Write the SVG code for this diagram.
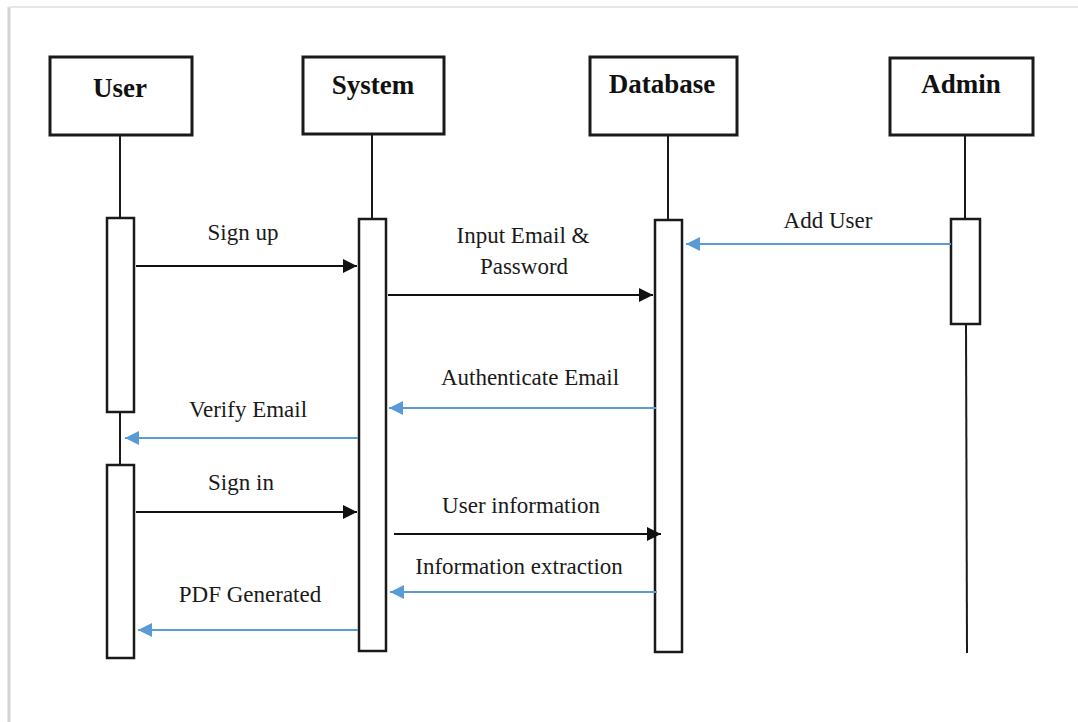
<svg xmlns="http://www.w3.org/2000/svg" width="1078" height="722" viewBox="0 0 1078 722">
  <style>
    .head { fill: #fff; stroke: #1a1a1a; stroke-width: 3; }
    .act { fill: #fff; stroke: #1a1a1a; stroke-width: 2.5; }
    .life { stroke: #1a1a1a; stroke-width: 2; fill: none; }
    .title { font-family: "Liberation Serif", "Times New Roman", serif; font-weight: bold; font-size: 27px; fill: #111; text-anchor: middle; }
    .lbl { font-family: "Liberation Serif", "Times New Roman", serif; font-size: 23px; fill: #1a1a1a; text-anchor: middle; }
    .msg { stroke: #111; stroke-width: 2.2; fill: none; marker-end: url(#ah-black); }
    .ret { stroke: #5b9bd5; stroke-width: 2.2; fill: none; marker-end: url(#ah-blue); }
  </style>
  <defs>
    <marker id="ah-black" markerUnits="userSpaceOnUse" markerWidth="15" markerHeight="15" refX="14" refY="7" orient="auto">
      <path d="M0,0 L14,7 L0,14 z" fill="#111"/>
    </marker>
    <marker id="ah-blue" markerUnits="userSpaceOnUse" markerWidth="15" markerHeight="15" refX="14" refY="7" orient="auto">
      <path d="M0,0 L14,7 L0,14 z" fill="#5b9bd5"/>
    </marker>
  </defs>

  <rect width="1078" height="722" fill="#fff"/>
  <!-- page frame shadow -->
  <line x1="9" y1="7" x2="9" y2="722" stroke="#d4d4d4" stroke-width="3"/>
  <line x1="9" y1="7" x2="1078" y2="7" stroke="#e6e6e6" stroke-width="2"/>

  <g id="user">
    <rect class="head" x="50" y="57" width="142" height="78"/>
    <text class="title" x="120" y="97">User</text>
    <line class="life" x1="120" y1="135" x2="120" y2="218"/>
    <line class="life" x1="120" y1="412" x2="120" y2="465"/>
    <rect class="act" x="107" y="218" width="27" height="194"/>
    <rect class="act" x="107" y="465" width="27" height="193"/>
  </g>

  <g id="system">
    <rect class="head" x="303" y="57" width="141" height="77"/>
    <text class="title" x="373" y="94">System</text>
    <line class="life" x1="372" y1="134" x2="372" y2="219"/>
    <rect class="act" x="359" y="219" width="27" height="432"/>
  </g>

  <g id="database">
    <rect class="head" x="590" y="57" width="147" height="78"/>
    <text class="title" x="662" y="93">Database</text>
    <line class="life" x1="668" y1="135" x2="668" y2="220"/>
    <rect class="act" x="655" y="220" width="27" height="432"/>
  </g>

  <g id="admin">
    <rect class="head" x="890" y="58" width="143" height="77"/>
    <text class="title" x="961" y="93">Admin</text>
    <line class="life" x1="965" y1="135" x2="965" y2="219"/>
    <line class="life" x1="966" y1="324" x2="967" y2="653"/>
    <rect class="act" x="951" y="219" width="29" height="105"/>
  </g>

  <g id="connectors">
    <line class="msg" x1="136" y1="266" x2="357" y2="266"/>
    <line class="msg" x1="388" y1="295" x2="653" y2="295"/>
    <line class="ret" x1="951" y1="244" x2="686" y2="244"/>
    <line class="ret" x1="656" y1="408" x2="389" y2="408"/>
    <line class="ret" x1="358" y1="438" x2="125" y2="438"/>
    <line class="msg" x1="136" y1="512" x2="357" y2="512"/>
    <line class="msg" x1="394" y1="534" x2="661" y2="534"/>
    <line class="ret" x1="657" y1="592" x2="390" y2="592"/>
    <line class="ret" x1="358" y1="630" x2="138" y2="630"/>
  </g>

  <g id="labels">
    <text class="lbl" x="243" y="240">Sign up</text>
    <text class="lbl" x="523" y="243">Input Email &amp;</text>
    <text class="lbl" x="524" y="274">Password</text>
    <text class="lbl" x="828" y="228">Add User</text>
    <text class="lbl" x="530" y="385">Authenticate Email</text>
    <text class="lbl" x="248" y="417">Verify Email</text>
    <text class="lbl" x="241" y="490">Sign in</text>
    <text class="lbl" x="521" y="513">User information</text>
    <text class="lbl" x="519" y="574">Information extraction</text>
    <text class="lbl" x="250" y="602">PDF Generated</text>
  </g>
</svg>
